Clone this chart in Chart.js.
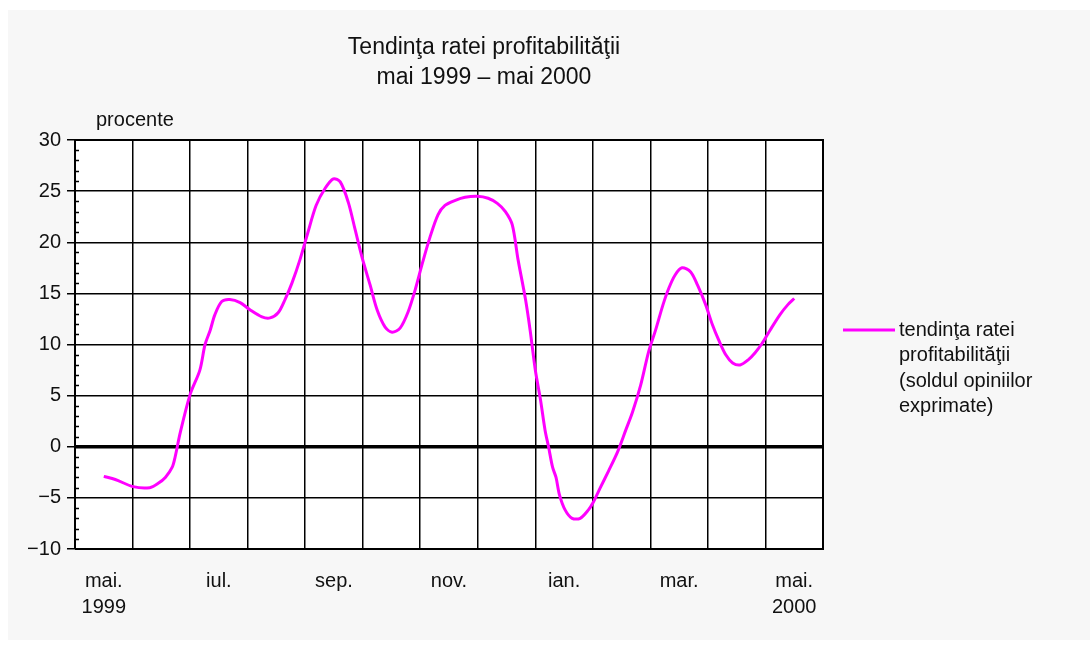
<!DOCTYPE html>
<html>
<head>
<meta charset="utf-8">
<script src="https://cdn.jsdelivr.net/npm/chart.js@4"></script>
<style>
  html, body { margin: 0; padding: 0; background: #ffffff; }
  #wrap { width: 1092px; height: 650px; position: relative; }
</style>
</head>
<body>
<div id="wrap"><canvas id="chart" width="1092" height="650"></canvas></div>
<script>
const titleLines = ['Tendinţa ratei profitabilităţii', 'mai 1999 – mai 2000'];
const yUnit = 'procente';
const seriesLabel = ['tendinţa ratei', 'profitabilităţii', '(soldul opiniilor', 'exprimate)'];

// month labels, one per category (mai 1999 .. mai 2000)
const months = ['mai.', 'iun.', 'iul.', 'aug.', 'sep.', 'oct.', 'nov.', 'dec.', 'ian.', 'feb.', 'mar.', 'apr.', 'mai.'];
const yearLabels = { 0: '1999', 12: '2000' };

// position along the time axis, in months from mai 1999
const monthPos = [0, 0.2, 0.51, 0.8, 0.94, 1.07, 1.19, 1.24, 1.33, 1.5, 1.67, 1.76, 1.85, 1.93,
  2.05, 2.19, 2.37, 2.54, 2.75, 2.89, 3.03, 3.15, 3.27, 3.41, 3.55, 3.69, 3.85, 3.99,
  4.11, 4.25, 4.37, 4.49, 4.63, 4.75, 4.89, 5.01, 5.15, 5.29, 5.41, 5.54, 5.67, 5.81, 5.93,
  6.11, 6.28, 6.49, 6.68, 6.84, 6.98, 7.1, 7.2, 7.33, 7.41, 7.5, 7.59, 7.67, 7.73, 7.8, 7.86, 7.92,
  8.02, 8.14, 8.28, 8.42, 8.51, 8.63, 8.77, 8.93, 9.07, 9.19, 9.33, 9.47, 9.59, 9.72, 9.82, 9.93,
  10.05, 10.2, 10.32, 10.46, 10.58, 10.69, 10.81, 10.93, 11.06, 11.2, 11.32, 11.44, 11.58, 11.75, 11.89, 12];
const rate = [-2.9, -3.2, -3.9, -4.0, -3.6, -3.0, -2.0, -1.0, 1.4, 5.1, 7.5, 10.0, 11.4, 12.9,
  14.2, 14.4, 14.1, 13.4, 12.7, 12.6, 13.1, 14.4, 16.0, 18.3, 21.0, 23.6, 25.3, 26.2,
  25.9, 23.9, 21.2, 18.5, 15.8, 13.4, 11.7, 11.2, 11.6, 13.2, 15.3, 18.0, 20.5, 22.7, 23.6,
  24.1, 24.4, 24.5, 24.3, 23.8, 23.0, 21.7, 18.3, 14.4, 11.4, 7.5, 4.6, 1.6, 0.0, -2.0, -3.0, -4.7,
  -6.2, -7.0, -7.0, -6.2, -5.4, -4.0, -2.4, -0.5, 1.6, 3.4, 6.0, 9.3, 11.4, 13.9, 15.5, 16.8,
  17.5, 17.1, 15.8, 13.9, 11.9, 10.4, 9.0, 8.2, 8.0, 8.5, 9.2, 10.1, 11.4, 12.9, 13.9, 14.5];

const yMin = -10, yMax = 30, yStep = 5;
const FONT = '"Liberation Sans", Arial, sans-serif';
const LINE_COLOR = '#ff00ff';

const points = monthPos.map((m, i) => ({ x: m, y: rate[i] }));

const decorPlugin = {
  id: 'decor',
  beforeDraw(chart) {
    const ctx = chart.ctx;
    const a = chart.chartArea;
    ctx.save();
    ctx.fillStyle = '#f7f7f7';
    ctx.fillRect(8, 10, 1082, 630);
    ctx.fillStyle = '#ffffff';
    ctx.fillRect(a.left, a.top, a.right - a.left, a.bottom - a.top);
    ctx.restore();
  },
  afterDraw(chart) {
    const ctx = chart.ctx;
    const a = chart.chartArea;
    const ys = chart.scales.y;
    ctx.save();
    // title
    ctx.fillStyle = '#111';
    ctx.font = '23px ' + FONT;
    ctx.textAlign = 'center';
    ctx.textBaseline = 'alphabetic';
    ctx.fillText(titleLines[0], 484, 54);
    ctx.fillText(titleLines[1], 484, 84);
    // unit
    ctx.font = '20px ' + FONT;
    ctx.textAlign = 'left';
    ctx.fillText(yUnit, 96, 126);
    // minor ticks on the value axis
    ctx.strokeStyle = '#000';
    ctx.lineWidth = 1.5;
    for (let v = yMin; v <= yMax; v++) {
      if (v % yStep === 0) continue;
      const py = Math.round(ys.getPixelForValue(v)) + 0.5;
      ctx.beginPath();
      ctx.moveTo(a.left, py);
      ctx.lineTo(a.left + 4, py);
      ctx.stroke();
    }
    // axis frame
    ctx.lineWidth = 2;
    ctx.beginPath();
    ctx.moveTo(a.left, a.bottom);
    ctx.lineTo(a.left, a.top);
    ctx.lineTo(a.right, a.top);
    ctx.lineTo(a.right, a.bottom);
    ctx.lineTo(a.left, a.bottom);
    ctx.stroke();
    // legend
    const ds = chart.data.datasets[0];
    ctx.strokeStyle = ds.borderColor;
    ctx.lineWidth = 3;
    ctx.beginPath();
    ctx.moveTo(843, 330);
    ctx.lineTo(895, 330);
    ctx.stroke();
    ctx.fillStyle = '#111';
    ctx.font = '20px ' + FONT;
    ctx.textBaseline = 'middle';
    seriesLabel.forEach((t, i) => ctx.fillText(t, 899, 330 + i * 25.5));
    ctx.restore();
  }
};

new Chart(document.getElementById('chart'), {
  type: 'line',
  data: {
    datasets: [{
      label: seriesLabel.join(' '),
      data: points,
      borderColor: LINE_COLOR,
      borderWidth: 3,
      pointRadius: 0,
      tension: 0.3,
      fill: false
    }]
  },
  options: {
    responsive: false,
    animation: false,
    layout: { padding: { left: 0, right: 269, top: 140, bottom: 6 } },
    plugins: {
      legend: { display: false },
      title: { display: false },
      tooltip: { enabled: false }
    },
    scales: {
      x: {
        type: 'linear',
        min: -0.5,
        max: months.length - 0.5,
        afterBuildTicks(scale) {
          const t = [];
          for (let v = -0.5; v <= months.length - 0.5 + 1e-9; v += 0.5) t.push({ value: v });
          scale.ticks = t;
        },
        afterFit(scale) { scale.height = 95; },
        border: { display: false },
        grid: {
          drawTicks: false,
          color(c) { return Number.isInteger(c.tick.value) ? 'rgba(0,0,0,0)' : '#000'; },
          lineWidth: 1.5
        },
        ticks: {
          autoSkip: false,
          maxRotation: 0,
          padding: 20,
          color: '#111',
          font: { family: FONT, size: 20, lineHeight: 1.28 },
          callback(v) {
            if (!Number.isInteger(v) || v % 2 !== 0) return '';
            return yearLabels[v] ? [months[v], yearLabels[v]] : months[v];
          }
        }
      },
      y: {
        min: yMin,
        max: yMax,
        afterFit(scale) { scale.width = 75; },
        border: { display: false },
        grid: {
          color: '#000',
          lineWidth(c) { return c.tick && c.tick.value === 0 ? 3.5 : 1.5; },
          tickLength: 8,
          tickColor: '#000',
          tickWidth: 1.5
        },
        ticks: {
          stepSize: yStep,
          padding: 6,
          color: '#111',
          font: { family: FONT, size: 20 },
          callback(v) { return v < 0 ? '−' + Math.abs(v) : String(v); }
        }
      }
    }
  },
  plugins: [decorPlugin]
});
</script>
</body>
</html>
